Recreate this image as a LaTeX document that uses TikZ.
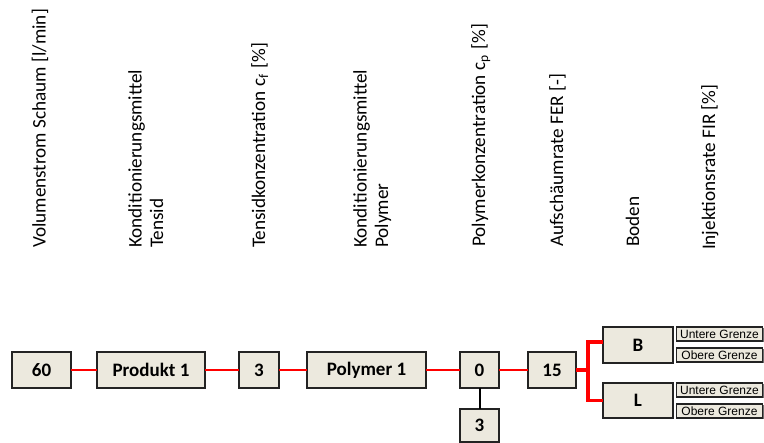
\documentclass[tikz,border=0pt]{standalone}
\usepackage{fontspec}
\setmainfont{Carlito}
\newfontfamily\arialfont{Liberation Sans}
\definecolor{boxfill}{RGB}{236,233,222}
\definecolor{boxline}{RGB}{35,35,35}
\definecolor{boxshade}{RGB}{110,110,110}
\definecolor{flow}{RGB}{255,0,0}
\begin{document}
\begin{tikzpicture}[x=1pt,y=-1pt,
  every node/.style={inner sep=0pt, outer sep=0pt},
  head/.style={rotate=90, anchor=base west, align=left,
    font=\fontsize{19.2}{21.5}\selectfont},
  valbox/.style={draw=boxline, fill=boxfill, line width=1.6pt,
    minimum height=36pt, font=\fontsize{19}{20}\selectfont\bfseries},
  limbox/.style={draw=boxline, fill=boxfill, line width=1.1pt,
    minimum width=86pt, minimum height=14pt,
    font=\arialfont\fontsize{12}{12}\selectfont},
  limshade/.style={fill=boxshade},
  redline/.style={draw=flow, line width=2.8pt},
  forkline/.style={draw=flow, line width=3.4pt},
  stemline/.style={draw=black, line width=2pt}]
\useasboundingbox (0,0) rectangle (764,443);

% column headings
\node[head] (h1) at (45.5,248) {Volumenstrom Schaum [l/min]};
\node[head] (h2) at (163,248) {Konditionierungsmittel\\Tensid};
\node[head] (h3) at (265,248) {Tensidkonzentration c\textsubscript{f}\hspace{0.3em}[\%]};
\node[head] (h4) at (388,248) {Konditionierungsmittel\\Polymer};
\node[head] (h5) at (485,247) {Polymerkonzentration c\textsubscript{p}\hspace{0.3em}[\%]};
\node[head] (h6) at (563,247) {Aufschäumrate FER [-]};
\node[head] (h7) at (639,247) {Boden};
\node[head] (h8) at (715,250) {Injektionsrate FIR [\%]};

% value row
\node[valbox, minimum width=59pt]  (v60)  at (41.5,370) {60};
\node[valbox, minimum width=108pt] (vp1)  at (151,370)  {Produkt 1};
\node[valbox, minimum width=40pt]  (v3)   at (259,370)  {3};
\node[valbox, minimum width=119pt] (vpo)  at (366.5,370) {Polymer 1};
\node[valbox, minimum width=39pt]  (v0)   at (479.5,370) {0};
\node[valbox, minimum width=39pt, minimum height=33pt] (v3b) at (479.5,425.5) {3};
\node[valbox, minimum width=48pt]  (v15)  at (552,370)  {15};
\node[valbox, minimum width=70pt]  (vB)   at (638,345)  {B};
\node[valbox, minimum width=70pt, minimum height=35pt] (vL) at (638,400.5) {L};

% limit boxes with a thin shade below
\foreach \n/\y/\t in {bu/334/Untere Grenze, bo/355/Obere Grenze,
                      lu/390/Untere Grenze, lo/411/Obere Grenze}{
  \fill[limshade] (677.5,\y-6) rectangle (764,\y+8.5);
  \node[limbox] (\n) at (719.5,\y) {\t};
}

% connectors
\draw[redline] (v60) -- (vp1);
\draw[redline] (vp1) -- (v3);
\draw[redline] (v3) -- (vpo);
\draw[redline] (vpo) -- (v0);
\draw[redline] (v0) -- (v15);
\draw[stemline] (v0) -- (v3b);
\draw[forkline] (v15.east) -- ++(12,0) coordinate (fork);
\draw[forkline] (fork) |- ([yshift=3pt]vB.west);
\draw[forkline] (fork) |- (vL.west);
\end{tikzpicture}
\end{document}
